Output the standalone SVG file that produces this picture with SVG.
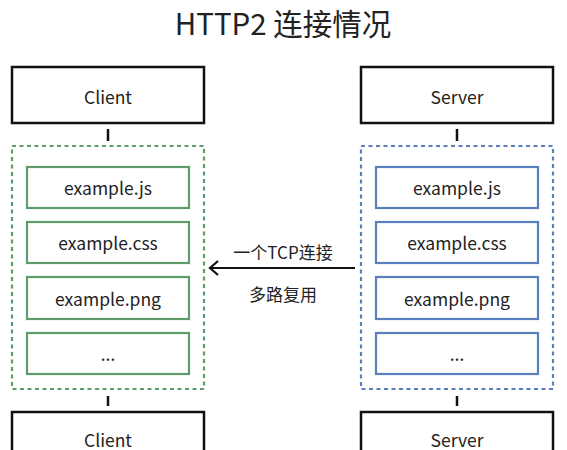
<svg xmlns="http://www.w3.org/2000/svg" width="567" height="450" viewBox="0 0 567 450">
<style>
text{font-family:"Noto Sans CJK SC","Noto Sans","Liberation Sans",sans-serif;fill:#222;text-anchor:middle;dominant-baseline:central}
.box{fill:#fff;stroke:#111;stroke-width:2.5}
.g{fill:#fff;stroke:#5f9c6c;stroke-width:2.2}
.b{fill:#fff;stroke:#5a7fbf;stroke-width:2.2}
.gd{fill:none;stroke:#5f9c6c;stroke-width:2.2;stroke-dasharray:4 3.5}
.bd{fill:none;stroke:#5a7fbf;stroke-width:2.2;stroke-dasharray:4 3.5}
.lbl{font-size:17.5px}
.el{font-size:17.5px}
.tick{stroke:#111;stroke-width:2.5}
</style>
<text x="283" y="22" style="font-size:29.5px">HTTP2 连接情况</text>
<g id="client-top"><rect class="box" x="12" y="67" width="192" height="56"/><text class="lbl" x="108" y="96">Client</text></g>
<g id="server-top"><rect class="box" x="361" y="67" width="192" height="56"/><text class="lbl" x="457" y="96">Server</text></g>
<g id="client-group"><rect class="gd" x="12" y="146" width="192" height="243"/></g>
<g id="server-group"><rect class="bd" x="361" y="146" width="192" height="243"/></g>
<g id="c1"><rect class="g" x="27" y="167" width="162" height="41"/><text class="lbl" x="108" y="187.5">example.js</text></g>
<g id="c2"><rect class="g" x="27" y="222" width="162" height="41"/><text class="lbl" x="108" y="242.5">example.css</text></g>
<g id="c3"><rect class="g" x="27" y="277" width="162" height="42"/><text class="lbl" x="108" y="298">example.png</text></g>
<g id="c4"><rect class="g" x="27" y="333" width="162" height="41"/><text class="lbl" x="108" y="353.5">...</text></g>
<g id="s1"><rect class="b" x="376" y="167" width="162" height="41"/><text class="lbl" x="457" y="187.5">example.js</text></g>
<g id="s2"><rect class="b" x="376" y="222" width="162" height="41"/><text class="lbl" x="457" y="242.5">example.css</text></g>
<g id="s3"><rect class="b" x="376" y="277" width="162" height="42"/><text class="lbl" x="457" y="298">example.png</text></g>
<g id="s4"><rect class="b" x="376" y="333" width="162" height="41"/><text class="lbl" x="457" y="353.5">...</text></g>
<g id="client-bottom"><rect class="box" x="12" y="412" width="192" height="56"/><text class="lbl" x="108" y="439">Client</text></g>
<g id="server-bottom"><rect class="box" x="361" y="412" width="192" height="56"/><text class="lbl" x="457" y="439">Server</text></g>
<g id="connectors">
<line class="tick" x1="108" y1="129" x2="108" y2="141"/>
<line class="tick" x1="457" y1="129" x2="457" y2="141"/>
<line class="tick" x1="108" y1="396" x2="108" y2="406"/>
<line class="tick" x1="457" y1="396" x2="457" y2="406"/>
<line x1="355" y1="268" x2="211" y2="268" stroke="#111" stroke-width="2.2"/>
<polyline points="218,261 210,268 218,275" fill="none" stroke="#111" stroke-width="2.2"/>
<text x="283" y="251" style="font-size:17px">一个TCP连接</text>
<text x="283" y="293" style="font-size:17px">多路复用</text>
</g>
</svg>
